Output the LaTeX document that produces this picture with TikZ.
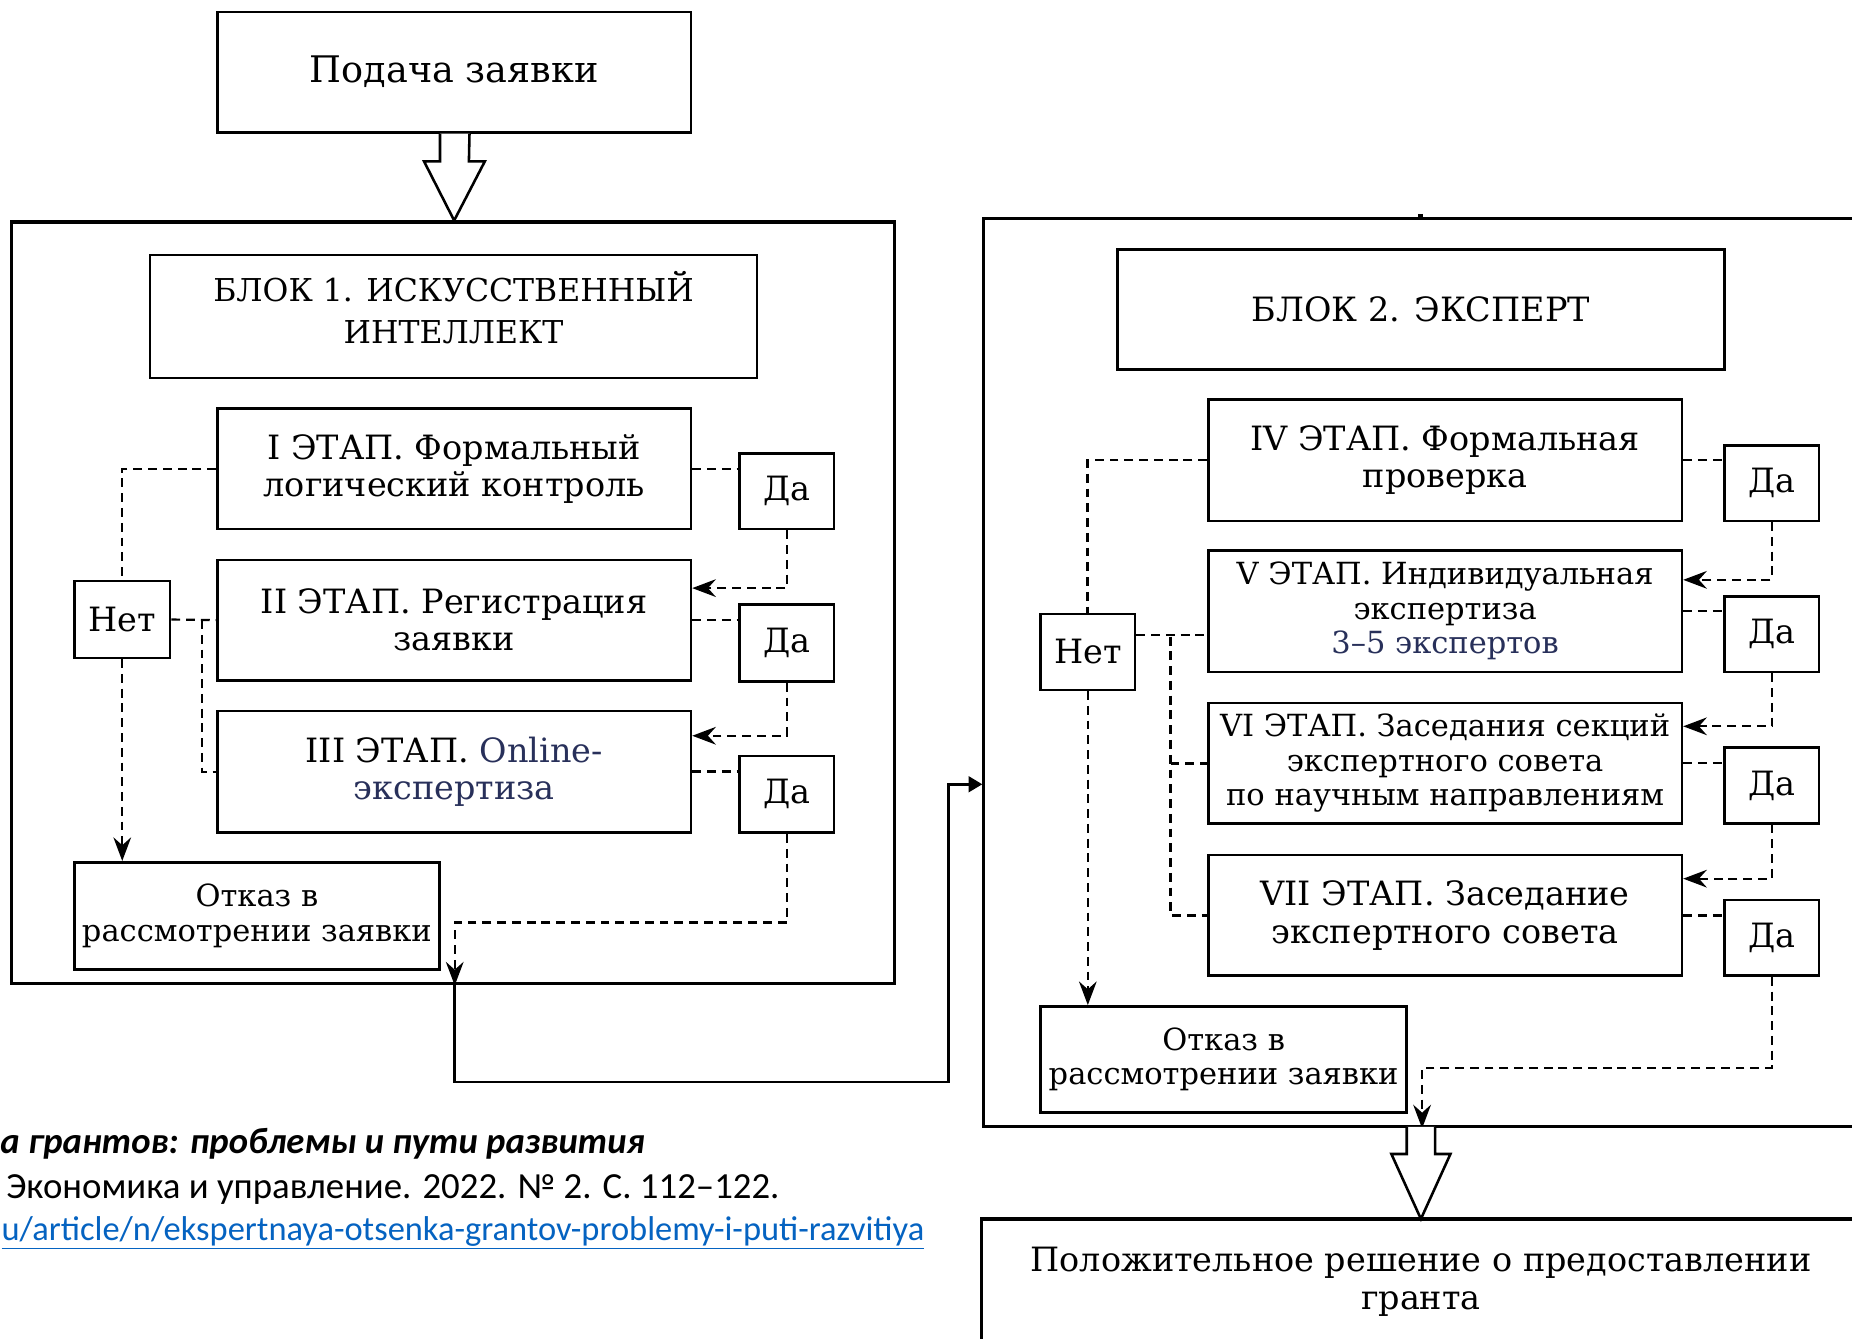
\documentclass[tikz,border=0pt]{standalone}
\usepackage{fontspec}
\setmainfont{DejaVu Serif}
\newfontfamily\citefont{Carlito}
\usetikzlibrary{arrows.meta,calc}
\definecolor{navy}{HTML}{28305A}
\definecolor{linkblue}{HTML}{0563C1}
\begin{document}
\begin{tikzpicture}[x=0.6pt,y=-0.6pt,
  sz/.style 2 args={minimum width=#1*0.6pt, minimum height=#2*0.6pt},
  box/.style={draw, line width=1.3pt, inner sep=0pt, align=center, font=\fontsize{17}{19}\selectfont},
  smallbox/.style={box, font=\fontsize{15.5}{17.5}\selectfont},
  outer/.style={draw, line width=1.6pt, inner sep=0pt},
  dl/.style={dash pattern=on 4.5pt off 3pt, line width=1.1pt},
  dla/.style={dl, -{Stealth[length=12pt,width=9pt,inset=4pt]}},
  solidarrow/.style={line width=1.3pt, -{Triangle[length=7pt,width=8pt]}},
  hollow/.style={line width=1.3pt, fill=white, line join=miter},
  cite/.style={inner sep=0pt},
]
\useasboundingbox (0,0) rectangle (1568,1133);

% ---------- top ----------
\node[box, sz={401}{102}, font=\fontsize{18.6}{21}\selectfont] (pod) at (384.5,61) {Подача заявки};

% ---------- block 1 ----------
\node[outer, sz={747}{645}] (b1) at (383.5,510.5) {};
\node[box, sz={514}{104}, font=\fontsize{16}{21.5}\selectfont] (b1t) at (384,268) {БЛОК 1. ИСКУССТВЕННЫЙ\\ИНТЕЛЛЕКТ\vphantom{y}\vspace{6pt}};
\node[box, sz={401}{102}] (s1) at (384.5,397) {I ЭТАП. Формальный\\логический контроль};
\node[box, sz={401}{102}] (s2) at (384.5,525) {II ЭТАП. Регистрация\\заявки};
\node[box, sz={401}{103}] (s3) at (384.5,653.5) {III ЭТАП. \textcolor{navy}{Online-}\\\textcolor{navy}{экспертиза}};
\node[box, sz={80}{64}] (da1) at (666,416) {Да};
\node[box, sz={80}{65}] (da2) at (666,544.5) {Да};
\node[box, sz={80}{65}] (da3) at (666,672.5) {Да};
\node[box, sz={81}{65}] (net1) at (103.5,524.5) {Нет};
\node[smallbox, sz={309}{91}] (otk1) at (217.5,775.5) {Отказ в\\рассмотрении заявки};

% hollow arrow 1
\draw[hollow] ($(pod.south)+(-12,0)$) -- ++(0,23.5) -- ++(-13.5,0) -- (b1.north -| pod.south)
  -- ($(pod.south)+(26,23.5)$) -- ++(-13.5,0) -- ($(pod.south)+(13,0)$);

% block 1 connectors
\draw[dl] (s1.east) -- (s1.east -| da1.west);
\draw[dla] (da1.south) |- ($(s2.north east)+(0,25)$);
\draw[dl] (s2.east) -- (s2.east -| da2.west);
\draw[dla] (da2.south) |- ($(s3.north east)+(0,22)$);
\draw[dl, line width=1.5pt] (s3.east) -- (s3.east -| da3.west);
\coordinate (j1) at (385,781);
\draw[dla] (da3.south) |- (j1) -- (j1 |- b1.south);
\draw[dl] (s1.west) -| (net1.north);
\draw[dl] (net1.east) -- (s2.west);
\coordinate (j2) at (171,525);
\draw[dl, line width=1.4pt] (j2) |- (s3.west);
\draw[dla] (net1.south) -- (net1.south |- otk1.north);

% link block1 -> block2
\coordinate (k1) at (385,916);
\coordinate (k2) at (803,916);
\coordinate (k3) at (803,664);

% ---------- block 2 ----------
\node[outer, sz={767}{769}] (b2) at (1216.5,569.5) {};
\draw[line width=2.5pt] (1203,181) -- (1203,186);
\node[box, sz={514}{102}] (b2t) at (1203,262) {БЛОК 2. ЭКСПЕРТ};
\node[box, sz={401}{103}] (s4) at (1223.5,389.5) {IV ЭТАП. Формальная\\проверка};
\node[smallbox, sz={401}{103}] (s5) at (1223.5,517.5) {V ЭТАП. Индивидуальная\\экспертиза\\\textcolor{navy}{3–5 экспертов}};
\node[smallbox, sz={401}{102}] (s6) at (1223.5,646) {VI ЭТАП. Заседания секций\\экспертного совета\\по научным направлениям};
\node[box, sz={401}{102}] (s7) at (1223.5,775) {VII ЭТАП. Заседание\\экспертного совета};
\node[box, sz={80}{64}] (da4) at (1500,409) {Да};
\node[box, sz={80}{64}] (da5) at (1500,537) {Да};
\node[box, sz={80}{64}] (da6) at (1500,665) {Да};
\node[box, sz={80}{64}] (da7) at (1500,794) {Да};
\node[box, sz={80}{64}] (net2) at (921,552) {Нет};
\node[smallbox, sz={310}{90}] (otk2) at (1036,897) {Отказ в\\рассмотрении заявки};

\draw[solidarrow] (j1 |- b1.south) -- (k1) -- (k2) -- (k3) -- (k3 -| b2.west);

% block 2 connectors
\draw[dl] (s4.east) -- (s4.east -| da4.west);
\draw[dla] (da4.south) |- ($(s5.north east)+(0,26)$);
\draw[dl] (s5.east) -- (s5.east -| da5.west);
\draw[dla] (da5.south) |- ($(s6.north east)+(0,21)$);
\draw[dl, line width=1.4pt] (s6.east) -- (s6.east -| da6.west);
\draw[dla] (da6.south) |- ($(s7.north east)+(0,21)$);
\draw[dl, line width=1.5pt] (s7.east) -- (s7.east -| da7.west);
\coordinate (j4) at (1204,904);
\draw[dla] (da7.south) |- (j4) -- (j4 |- b2.south);
\draw[dl, line width=1.4pt] (s4.west) -| (net2.north);
\coordinate (n2r) at ($(net2.north east)+(0,19)$);
\draw[dl] (n2r) -- (n2r -| s5.west);
\coordinate (j6) at (991,539);
\draw[dl, line width=1.5pt] (j6) |- (s7.west);
\draw[dl, line width=1.5pt] (j6 |- s6.west) -- (s6.west);
\draw[dla] (net2.south) -- (net2.south |- otk2.north);

% ---------- result ----------
\node[outer, sz={769}{148}] (pos) at (1215.5,1106) {};
\draw[hollow] (1191,954) -- (1191,977) -- (1178,977) -- (1203,1032) -- (1228,977) -- (1215,977) -- (1215,954);
\node[inner sep=0pt, align=center, font=\fontsize{17}{19.5}\selectfont] (post) at (1203,1085) {Положительное решение о предоставлении\\гранта};

% ---------- citation ----------
\node[cite, anchor=base west, font=\citefont\bfseries\itshape\fontsize{18.6}{20}\selectfont] (c1) at (0,977) {а грантов: проблемы и пути развития};
\node[cite, anchor=base west, font=\citefont\fontsize{18.7}{20}\selectfont] (c2) at (5,1015) {Экономика и управление. 2022. № 2. С. 112–122.};
\node[cite, anchor=base west, text=linkblue, font=\citefont\fontsize{17.5}{20}\selectfont] (c3) at (1,1050) {\underline{u/article/n/ekspertnaya-otsenka-grantov-problemy-i-puti-razvitiya}};
\end{tikzpicture}
\end{document}
